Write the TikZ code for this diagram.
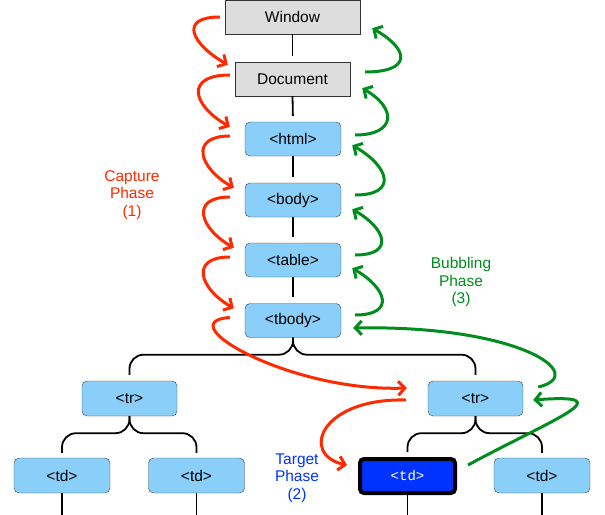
\documentclass[tikz,border=0pt]{standalone}
\usepackage{fontspec}
\setmainfont{Liberation Sans}
\newfontfamily\tdmono{Liberation Mono}
\usetikzlibrary{arrows.meta}

\definecolor{boxblue}{RGB}{137,207,250}
\definecolor{boxgray}{RGB}{221,221,221}
\definecolor{capred}{RGB}{255,42,0}
\definecolor{bubgreen}{RGB}{0,140,30}
\definecolor{tgtblue}{RGB}{0,51,255}

\begin{document}
\begin{tikzpicture}
[
  x=1pt, y=1pt,
  font=\fontsize{15.5}{17.5}\selectfont,
  grey/.style={draw=black!80,fill=boxgray,minimum height=34pt},
  elem/.style={draw=black!75,fill=boxblue,rounded corners=5pt,minimum width=96pt,minimum height=34pt},
  tgt/.style={draw=black,line width=4pt,fill=tgtblue,rounded corners=4pt,text=white,
    font=\tdmono\fontsize{14}{16}\selectfont,minimum width=95pt,minimum height=34pt},
  tree/.style={line width=1.8pt,rounded corners=14pt},
  capture/.style={capred,line width=3pt,-{Straight Barb[length=6.5pt,width=14pt]}},
  bubble/.style={bubgreen,line width=3pt,-{Straight Barb[length=6.5pt,width=14pt]}},
  phase/.style={align=center}
]

\useasboundingbox (0,0) rectangle (605,-514);

\node[grey,minimum width=135pt] (window) at (292.5,-17) {Window};
\node[grey,minimum width=115pt] (document) at (292.5,-79) {Document};
\node[elem] (html) at (293,-139) {<html>};
\node[elem] (body) at (293,-200) {<body>};
\node[elem] (table) at (293,-260) {<table>};
\node[elem] (tbody) at (293,-320.5) {<tbody>};

\node[elem,minimum width=95pt,minimum height=35pt] (trl) at (129.5,-398.5) {<tr>};
\node[elem,minimum width=95pt,minimum height=35pt] (trr) at (475.5,-398.5) {<tr>};

\node[elem,minimum height=35pt] (tda) at (62,-475.5) {<td>};
\node[elem,minimum height=35pt] (tdb) at (196.5,-475.5) {<td>};
\node[tgt] (tdt) at (407.5,-476) {<td>};
\node[elem,minimum height=35pt] (tdc) at (542,-475.5) {<td>};


\draw[tree,shorten >=6pt] (window.south) -- (document.north);
\draw[tree,shorten >=6pt] (document.south) -- (html.north);
\draw[tree,shorten >=6pt] (html.south) -- (body.north);
\draw[tree,shorten >=6pt] (body.south) -- (table.north);
\draw[tree,shorten >=6pt] (table.south) -- (tbody.north);

\draw[tree] (tbody.south) -- ++(0,-17) -| ([yshift=6pt]trl.north);
\draw[tree] (tbody.south) -- ++(0,-17) -| ([yshift=6pt]trr.north);

\draw[tree] (trl.south) -- ++(0,-17) -| ([yshift=5pt]tda.north);
\draw[tree] (trl.south) -- ++(0,-17) -| ([yshift=5pt]tdb.north);
\draw[tree] (trr.south) -- ++(0,-17) -| ([yshift=5pt]tdt.north);
\draw[tree] (trr.south) -- ++(0,-17) -| ([yshift=5pt]tdc.north);

\draw[tree] (tda.south) -- ++(0,-30);
\draw[tree] (tdb.south) -- ++(0,-30);
\draw[tree] (tdt.south) -- ++(0,-30);
\draw[tree] (tdc.south) -- ++(0,-30);


\draw[capture] ([xshift=-5pt]window.west) to[out=180,in=150,looseness=2.2] ([xshift=-7pt,yshift=-3pt]document.north west);
\draw[capture] ([xshift=-5pt,yshift=4pt]document.west) to[out=180,in=150,looseness=2.2] ([xshift=-15pt,yshift=-5pt]html.north west);
\draw[capture] ([xshift=-15pt,yshift=3pt]html.west) to[out=180,in=150,looseness=2] ([xshift=-11pt,yshift=-5pt]body.north west);
\draw[capture] ([xshift=-15pt,yshift=3pt]body.west) to[out=180,in=150,looseness=2] ([xshift=-11pt,yshift=-5pt]table.north west);
\draw[capture] ([xshift=-15pt,yshift=3pt]table.west) to[out=180,in=150,looseness=2] ([xshift=-11pt,yshift=-5pt]tbody.north west);
\draw[capture] ([xshift=-15pt,yshift=3pt]tbody.west) .. controls +(-62,-4) and +(-117,-4) .. ([xshift=-21pt,yshift=10.5pt]trr.west);
\draw[capture] ([xshift=-22pt,yshift=-1.5pt]trr.west) .. controls +(-86,2) and +(-47,10) .. ([xshift=-11pt,yshift=11pt]tdt.west);

\draw[bubble] ([xshift=11pt,yshift=11pt]tdt.east) .. controls +(87,47) and +(92,7) .. ([xshift=10pt,yshift=-1.5pt]trr.east);
\draw[bubble] ([xshift=15pt,yshift=11.5pt]trr.east) .. controls +(52,12) and +(167,3) .. ([xshift=12pt,yshift=-7.5pt]tbody.east);
\draw[bubble] ([xshift=14pt,yshift=5.5pt]tbody.east) to[out=0,in=-30,looseness=2.2] ([xshift=11pt,yshift=9pt]table.south east);
\draw[bubble] ([xshift=14pt,yshift=5pt]table.east) to[out=0,in=-30,looseness=2.2] ([xshift=11pt,yshift=8pt]body.south east);
\draw[bubble] ([xshift=14pt,yshift=5pt]body.east) to[out=0,in=-30,looseness=2.2] ([xshift=11pt,yshift=11pt]html.south east);
\draw[bubble] ([xshift=14pt,yshift=4pt]html.east) to[out=0,in=-30,looseness=2.2] ([xshift=12pt,yshift=8pt]document.south east);
\draw[bubble] ([xshift=15pt,yshift=7pt]document.east) to[out=0,in=-30,looseness=2.6] ([xshift=12pt,yshift=6pt]window.south east);


\node[phase,text=capred] (capt) at (132,-195) {Capture\\Phase\\(1)};
\node[phase,text=bubgreen] (bubb) at (461,-282) {Bubbling\\Phase\\(3)};
\node[phase,text=tgtblue] (targ) at (297,-478) {Target\\Phase\\(2)};

\end{tikzpicture}
\end{document}
